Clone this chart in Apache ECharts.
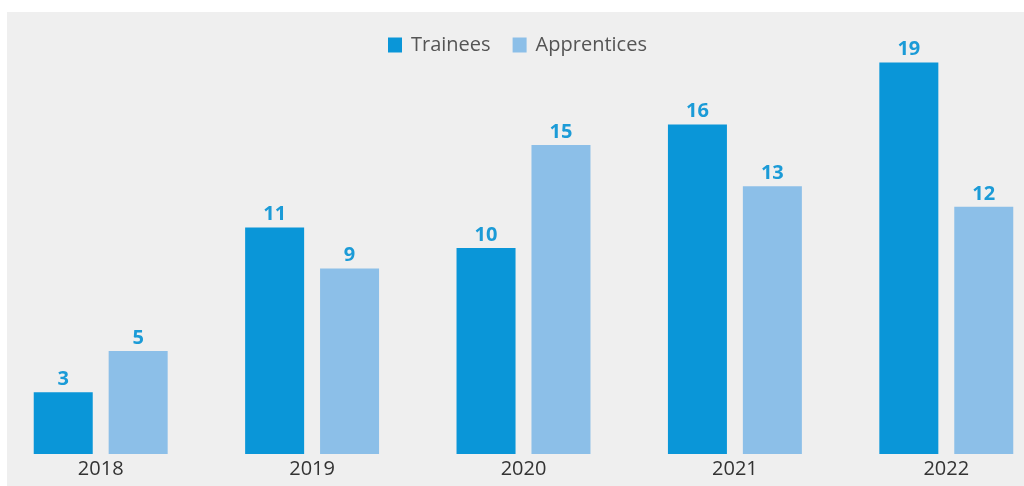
<!DOCTYPE html>
<html>
<head>
<meta charset="utf-8">
<script src="https://cdn.jsdelivr.net/npm/echarts@6/dist/echarts.min.js"></script>
<style>
html,body{margin:0;padding:0;background:#ffffff;overflow:hidden;}
#bg{position:absolute;left:7px;top:12px;width:1017px;height:474px;background:#efefef;}
#chart{position:absolute;left:-5px;top:0;width:1057px;height:486px;}
</style>
</head>
<body>
<div id="bg"></div>
<div id="chart"></div>
<script>
const categories = ['2018', '2019', '2020', '2021', '2022'];
const trainees = [3, 11, 10, 16, 19];
const apprentices = [5, 9, 15, 13, 12];
const seriesNames = ['Trainees', 'Apprentices'];

const chart = echarts.init(document.getElementById('chart'));
const labelStyle = {
  show: true,
  position: 'top',
  color: '#1b9bd7',
  fontFamily: 'Open Sans',
  fontWeight: 'bold',
  fontSize: 20,
  distance: 3
};
chart.setOption({
  backgroundColor: 'transparent',
  animation: false,
  legend: {
    data: seriesNames,
    top: 35,
    left: 393,
    padding: 0,
    itemWidth: 14,
    itemHeight: 15,
    itemGap: 22,
    icon: 'rect',
    textStyle: { color: '#555555', fontFamily: 'Open Sans', fontSize: 20, padding: [0, 0, 0, 4] }
  },
  grid: { left: 0, right: 0, top: 42, height: 412, containLabel: false, outerBoundsMode: 'none' },
  xAxis: {
    type: 'category',
    data: categories,
    axisLine: { show: false },
    axisTick: { show: false },
    axisLabel: { color: '#333333', fontFamily: 'Open Sans', fontSize: 20, margin: 5 }
  },
  yAxis: {
    type: 'value',
    min: 0,
    max: 20,
    show: false,
    splitLine: { show: false }
  },
  series: [
    {
      name: seriesNames[0],
      type: 'bar',
      data: trainees,
      barWidth: 59,
      barGap: '27%',
      itemStyle: { color: '#0a96d8' },
      label: labelStyle
    },
    {
      name: seriesNames[1],
      type: 'bar',
      data: apprentices,
      barWidth: 59,
      itemStyle: { color: '#8cbfe8' },
      label: labelStyle
    }
  ]
});
</script>
</body>
</html>
